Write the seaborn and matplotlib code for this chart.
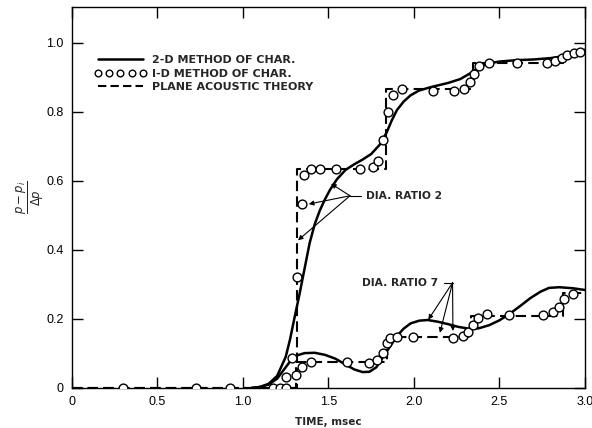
import numpy as np
import pandas as pd
import matplotlib
matplotlib.use("Agg")
import matplotlib.pyplot as plt
from matplotlib.lines import Line2D
import seaborn as sns

# ---------------- data ----------------
# 2-D method of characteristics (solid), diameter ratio 2
t_2d_r2 = [1.05, 1.10, 1.15, 1.20, 1.25, 1.275, 1.30, 1.33, 1.36, 1.39, 1.42, 1.45, 1.48, 1.51,
           1.55, 1.60, 1.65, 1.70, 1.75, 1.80, 1.84, 1.87, 1.90, 1.94, 1.98, 2.03, 2.10, 2.20,
           2.27, 2.33, 2.38, 2.43, 2.50, 2.60, 2.70, 2.80, 2.88, 2.94, 3.00]
p_2d_r2 = [0.0, 0.003, 0.012, 0.035, 0.09, 0.14, 0.20, 0.27, 0.345, 0.42, 0.475, 0.515, 0.547, 0.575,
           0.605, 0.632, 0.648, 0.662, 0.678, 0.705, 0.74, 0.775, 0.805, 0.83, 0.848, 0.862, 0.872, 0.884,
           0.895, 0.912, 0.93, 0.94, 0.946, 0.95, 0.952, 0.956, 0.962, 0.97, 0.98]

# 2-D method of characteristics (solid), diameter ratio 7
t_2d_r7 = [1.05, 1.10, 1.15, 1.20, 1.25, 1.28, 1.32, 1.36, 1.42, 1.48, 1.54, 1.60, 1.65, 1.70,
           1.74, 1.78, 1.82, 1.86, 1.90, 1.94, 1.98, 2.03, 2.08, 2.14, 2.20, 2.26, 2.32, 2.38,
           2.44, 2.50, 2.56, 2.62, 2.68, 2.74, 2.79, 2.85, 2.93, 3.00]
p_2d_r7 = [0.0, 0.003, 0.01, 0.027, 0.06, 0.08, 0.095, 0.101, 0.102, 0.096, 0.085, 0.068, 0.054, 0.046,
           0.047, 0.06, 0.09, 0.12, 0.15, 0.172, 0.187, 0.195, 0.197, 0.192, 0.185, 0.177, 0.172, 0.173,
           0.182, 0.196, 0.215, 0.237, 0.26, 0.279, 0.29, 0.292, 0.289, 0.284]

# 1-D method of characteristics (circles), diameter ratio 2
t_1d_r2 = [0.30, 0.725, 0.924, 1.314, 1.343, 1.355, 1.40, 1.45, 1.546, 1.684, 1.762, 1.791, 1.822,
           1.85, 1.879, 1.933, 2.113, 2.234, 2.292, 2.327, 2.351, 2.382, 2.44, 2.604, 2.776,
           2.825, 2.864, 2.897, 2.936, 2.971]
p_1d_r2 = [0.0, 0.0, 0.0, 0.321, 0.533, 0.617, 0.635, 0.636, 0.636, 0.634, 0.640, 0.659, 0.718,
           0.80, 0.85, 0.866, 0.862, 0.862, 0.866, 0.886, 0.909, 0.933, 0.943, 0.941, 0.941,
           0.949, 0.955, 0.965, 0.970, 0.975]

# 1-D method of characteristics (circles), diameter ratio 7
t_1d_r7 = [1.174, 1.216, 1.251, 1.251, 1.284, 1.310, 1.343, 1.398, 1.606, 1.735, 1.782, 1.817,
           1.844, 1.860, 1.899, 1.996, 2.23, 2.288, 2.318, 2.347, 2.376, 2.425, 2.557, 2.756,
           2.811, 2.85, 2.877, 2.932]
p_1d_r7 = [0.0, 0.0, 0.0, 0.033, 0.086, 0.038, 0.062, 0.075, 0.075, 0.072, 0.082, 0.102,
           0.129, 0.144, 0.149, 0.147, 0.144, 0.151, 0.163, 0.183, 0.202, 0.214, 0.212, 0.212,
           0.221, 0.236, 0.257, 0.272]

# Plane acoustic theory (dashed steps)
t_ac_r2 = [0.0, 1.316, 1.836, 2.347, 2.870, 3.0]
p_ac_r2 = [0.0, 0.635, 0.866, 0.941, 0.972, 0.972]
t_ac_r7 = [0.0, 1.310, 1.840, 2.334, 2.870, 3.0]
p_ac_r7 = [0.0, 0.075, 0.147, 0.209, 0.275, 0.275]

x_ticks = [0, 0.5, 1.0, 1.5, 2.0, 2.5, 3.0]
x_tick_labels = ["0", "0.5", "1.0", "1.5", "2.0", "2.5", "3.0"]
y_ticks = [0, 0.2, 0.4, 0.6, 0.8, 1.0]
y_tick_labels = ["0", "0.2", "0.4", "0.6", "0.8", "1.0"]

legend_labels = ["2-D METHOD OF CHAR.", "I-D METHOD OF CHAR.", "PLANE ACOUSTIC THEORY"]
x_label = "TIME, msec"

# annotation text, apex and arrow targets (data units)
ann_r2_text = "DIA. RATIO 2"
ann_r2_apex = (1.626, 0.557)
ann_r2_text_pos = (1.72, 0.557)
ann_r2_targets = [(1.515, 0.592), (1.385, 0.533), (1.322, 0.428)]
ann_r7_text = "DIA. RATIO 7"
ann_r7_apex = (2.226, 0.305)
ann_r7_text_pos = (1.694, 0.305)
ann_r7_targets = [(2.084, 0.198), (2.152, 0.160), (2.228, 0.165)]

# ---------------- plot ----------------
sns.set_style("ticks")
plt.rcParams['font.family'] = ['Liberation Sans', 'DejaVu Sans']
plt.rcParams['mathtext.fontset'] = 'dejavusans'

fig = plt.figure(figsize=(5.92, 4.28), dpi=100)
ax = fig.add_axes([0.1216, 0.0935, 0.8664, 0.8901])

lw_solid = 1.8
lw_dash = 1.5
dash = (5, 2.5)

for t, p in [(t_ac_r2, p_ac_r2), (t_ac_r7, p_ac_r7)]:
    df = pd.DataFrame({"t": t, "p": p})
    sns.lineplot(data=df, x="t", y="p", ax=ax, color="black", lw=lw_dash,
                 dashes=False, drawstyle="steps-post", estimator=None, sort=False,
                 linestyle=(0, dash))

for t, p in [(t_2d_r2, p_2d_r2), (t_2d_r7, p_2d_r7)]:
    df = pd.DataFrame({"t": t, "p": p})
    sns.lineplot(data=df, x="t", y="p", ax=ax, color="black", lw=lw_solid,
                 estimator=None, sort=False)

for t, p in [(t_1d_r2, p_1d_r2), (t_1d_r7, p_1d_r7)]:
    df = pd.DataFrame({"t": t, "p": p})
    sns.scatterplot(data=df, x="t", y="p", ax=ax, marker="o", s=40,
                    facecolor="white", edgecolor="black", linewidth=1.0, zorder=5)

ax.set_xlim(0, 3.0)
ax.set_ylim(0, 1.104)
ax.set_xticks(x_ticks)
ax.set_xticklabels(x_tick_labels)
ax.set_yticks(y_ticks)
ax.set_yticklabels(y_tick_labels)
ax.tick_params(direction="in", length=8, width=1.0, top=True, right=True,
               labelsize=9, pad=6, colors="black")
for s in ax.spines.values():
    s.set_linewidth(1.0)
    s.set_color("black")

ax.set_xlabel(x_label, fontsize=7.5, fontweight="bold", labelpad=6,
              family=["DejaVu Sans"])
ax.set_ylabel(r"$\frac{p-p_i}{\Delta p}$", fontsize=12)
ax.yaxis.label.set_verticalalignment("center")
ax.yaxis.set_label_coords(-0.082, 0.5)

handles = [
    Line2D([], [], color="black", lw=lw_solid),
    Line2D([], [], ls="none", marker="o", ms=4.8, mfc="white", mec="black", mew=1.0),
    Line2D([], [], color="black", lw=lw_dash, linestyle=(0, (4, 2))),
]
ax.legend(handles, legend_labels, loc="upper left", bbox_to_anchor=(0.036, 0.885),
          frameon=False, numpoints=5, handlelength=4.6, handletextpad=0.5,
          labelspacing=0.3, borderaxespad=0,
          prop={"size": 8, "weight": "bold", "family": "DejaVu Sans"})

for apex, targets, txt, tpos in [(ann_r2_apex, ann_r2_targets, ann_r2_text, ann_r2_text_pos),
                                 (ann_r7_apex, ann_r7_targets, ann_r7_text, ann_r7_text_pos)]:
    for tgt in targets:
        ax.annotate("", xy=tgt, xytext=apex,
                    arrowprops=dict(arrowstyle="-|>", lw=0.8, color="black",
                                    mutation_scale=7, shrinkA=0, shrinkB=0))
    if tpos[0] > apex[0]:
        ax.plot([apex[0], tpos[0] - 0.03], [apex[1], apex[1]], color="black", lw=0.8)
    else:
        ax.plot([apex[0] - 0.05, apex[0]], [apex[1], apex[1]], color="black", lw=0.8)
    ax.text(tpos[0], tpos[1], txt, fontsize=7.7, fontweight="bold", va="center", ha="left",
            family=["DejaVu Sans"])

fig.savefig("out.png", dpi=100)
